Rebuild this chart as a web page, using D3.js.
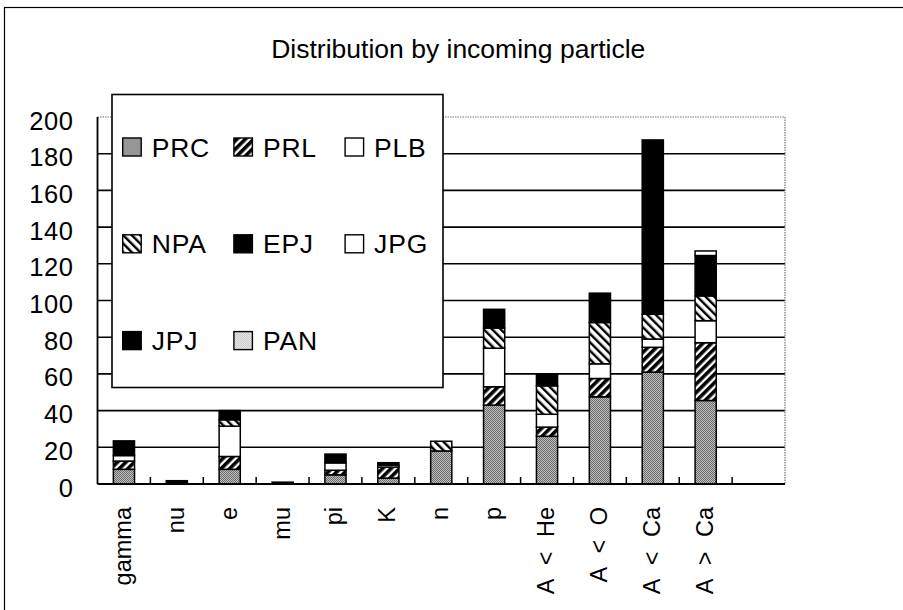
<!DOCTYPE html>
<html>
<head>
<meta charset="utf-8">
<script src="https://cdn.jsdelivr.net/npm/d3@7"></script>
<style>
  html, body { margin: 0; padding: 0; background: #fff; }
  svg { display: block; font-family: "Liberation Sans", Arial, sans-serif; }
</style>
</head>
<body>
<svg id="chart" width="903" height="610"></svg>
<script>
// Categories of incoming particle (last slot is left empty)
const categories = ["gamma", "nu", "e", "mu", "pi", "K", "n", "p", "A < He", "A < O", "A < Ca", "A > Ca", ""];
const seriesNames = ["PRC", "PRL", "PLB", "NPA", "EPJ", "JPG", "JPJ", "PAN"];

// Counts per series, one value per category
const PRC = [8, 0, 8, 0, 5, 3.2, 18, 43, 26, 47.5, 61, 45.5, 0];
const PRL = [4.5, 0, 7, 0, 2.5, 6, 0, 10, 5, 10, 13.5, 31.5, 0];
const PLB = [3, 0, 16.5, 0, 4, 1, 0, 21, 7, 8, 4.5, 12, 0];
const NPA = [0, 0, 3.5, 0, 0, 0, 5.3, 11, 15.5, 22.5, 13.5, 13.5, 0];
const EPJ = [8, 1.8, 5, 1, 4.8, 1.4, 0, 10.2, 6.5, 16, 95, 22, 0];
const JPG = [0, 0, 0, 0, 0, 0, 0, 0, 0, 0, 0, 2.5, 0];
const JPJ = [0, 0, 0, 0, 0, 0, 0, 0, 0, 0, 0, 0, 0];
const PAN = [0, 0, 0, 0, 0, 0, 0, 0, 0, 0, 0, 0, 0];

const yTicks = [0, 20, 40, 60, 80, 100, 120, 140, 160, 180, 200];
const titleText = "Distribution by incoming particle";

const seriesValues = { PRC, PRL, PLB, NPA, EPJ, JPG, JPJ, PAN };
const rows = categories.map((c, i) => {
  const r = { category: c };
  seriesNames.forEach(k => { r[k] = seriesValues[k][i]; });
  return r;
});

const svg = d3.select("#chart");
const defs = svg.append("defs");

// Fill patterns for the series
function checker(id, a, b) {
  const p = defs.append("pattern").attr("id", id).attr("patternUnits", "userSpaceOnUse")
    .attr("width", 2).attr("height", 2);
  p.append("rect").attr("width", 2).attr("height", 2).attr("fill", a);
  p.append("rect").attr("width", 1).attr("height", 1).attr("fill", b);
  p.append("rect").attr("x", 1).attr("y", 1).attr("width", 1).attr("height", 1).attr("fill", b);
}
function stripes(id, angle, period, ink) {
  const p = defs.append("pattern").attr("id", id).attr("patternUnits", "userSpaceOnUse")
    .attr("width", period).attr("height", period)
    .attr("patternTransform", `rotate(${angle})`);
  p.append("rect").attr("width", period).attr("height", period).attr("fill", "#fff");
  p.append("rect").attr("width", ink).attr("height", period).attr("fill", "#000");
}
checker("pPRC", "#bdbdbd", "#6e6e6e");
checker("pPAN", "#eeeeee", "#c4c4c4");
stripes("pPRL", 45, 6, 3.6);
stripes("pNPA", -45, 6, 2.4);

const fills = {
  PRC: "url(#pPRC)", PRL: "url(#pPRL)", PLB: "#fff", NPA: "url(#pNPA)",
  EPJ: "#000", JPG: "#fff", JPJ: "#000", PAN: "url(#pPAN)"
};

// Outer chart frame
svg.append("rect").attr("x", 4.5).attr("y", 7.5).attr("width", 920).attr("height", 620)
  .attr("fill", "none").attr("stroke", "#000").attr("stroke-width", 1.2);

// Title
svg.append("text").attr("x", 458.3).attr("y", 58.3).attr("text-anchor", "middle")
  .attr("font-size", 26.5).attr("fill", "#000").text(titleText);

// Scales
const plot = { left: 97.5, right: 785, top: 117, bottom: 484 };
const x = d3.scaleBand().domain(categories).range([plot.left, plot.right]).padding(0);
const y = d3.scaleLinear().domain([0, 200]).range([plot.bottom, plot.top]);

// Horizontal gridlines
svg.append("g").selectAll("line").data(yTicks.filter(v => v > 0 && v < 200)).join("line")
  .attr("x1", plot.left).attr("x2", plot.right)
  .attr("y1", d => y(d)).attr("y2", d => y(d))
  .attr("stroke", "#000").attr("stroke-width", 1.6);

// Plot area border (dotted top and right)
svg.append("path")
  .attr("d", `M${plot.left},${y(200)}H${plot.right}V${plot.bottom}`)
  .attr("fill", "none").attr("stroke", "#777").attr("stroke-width", 1.2)
  .attr("stroke-dasharray", "1.5,1");

// Stacked bars
const stack = d3.stack().keys(seriesNames)(rows);
const barW = x.bandwidth() * 0.4;
const barOff = (x.bandwidth() - barW) / 2;
svg.append("g").selectAll("g").data(stack).join("g")
  .attr("fill", d => fills[d.key])
  .selectAll("rect").data(d => d.filter(s => s[1] - s[0] > 0)).join("rect")
  .attr("x", d => x(d.data.category) + barOff)
  .attr("width", barW)
  .attr("y", d => y(d[1]))
  .attr("height", d => y(d[0]) - y(d[1]))
  .attr("stroke", "#000").attr("stroke-width", 1.5);

// Y axis
const yAxis = svg.append("g").attr("transform", `translate(${plot.left},0)`)
  .call(d3.axisLeft(y).tickValues(yTicks).tickSize(0).tickPadding(24));
yAxis.select(".domain").remove();
yAxis.selectAll("text").attr("font-size", 25.5).attr("font-family", "Liberation Sans, Arial, sans-serif")
  .attr("fill", "#000").attr("dy", 12).attr("letter-spacing", 0.6);
svg.append("line").attr("x1", plot.left).attr("x2", plot.left)
  .attr("y1", plot.top).attr("y2", plot.bottom)
  .attr("stroke", "#000").attr("stroke-width", 1.8);

// X axis baseline and inward tick marks at category boundaries
svg.append("line").attr("x1", plot.left).attr("x2", plot.right)
  .attr("y1", plot.bottom).attr("y2", plot.bottom)
  .attr("stroke", "#000").attr("stroke-width", 1.8);
svg.append("g").selectAll("line").data(categories.slice(1)).join("line")
  .attr("x1", d => x(d)).attr("x2", d => x(d))
  .attr("y1", plot.bottom).attr("y2", plot.bottom - 7)
  .attr("stroke", "#000").attr("stroke-width", 1.5);

// Rotated category labels
svg.append("g").selectAll("text").data(categories).join("text")
  .attr("transform", d => `translate(${x(d) + x.bandwidth() / 2 + 7},507) rotate(-90)`)
  .attr("text-anchor", "end")
  .attr("font-size", 23.5)
  .attr("word-spacing", 8)
  .attr("fill", "#000")
  .style("white-space", "pre")
  .text(d => d);

// Legend
const lg = svg.append("g");
lg.append("rect").attr("x", 112).attr("y", 94.5).attr("width", 331).attr("height", 293)
  .attr("fill", "#fff").attr("stroke", "#000").attr("stroke-width", 1.6);
const items = lg.selectAll("g").data(seriesNames).join("g")
  .attr("transform", (d, i) => `translate(${122.7 + (i % 3) * 111.2},${156.5 + Math.floor(i / 3) * 96.8})`);
items.append("rect").attr("x", 0).attr("y", -18.5).attr("width", 18.5).attr("height", 18)
  .attr("fill", d => fills[d]).attr("stroke", "#000").attr("stroke-width", 1.4);
items.append("text").attr("x", 29).attr("y", 0).attr("font-size", 26.5)
  .attr("letter-spacing", 0.8).attr("fill", "#000").text(d => d);
</script>
</body>
</html>
